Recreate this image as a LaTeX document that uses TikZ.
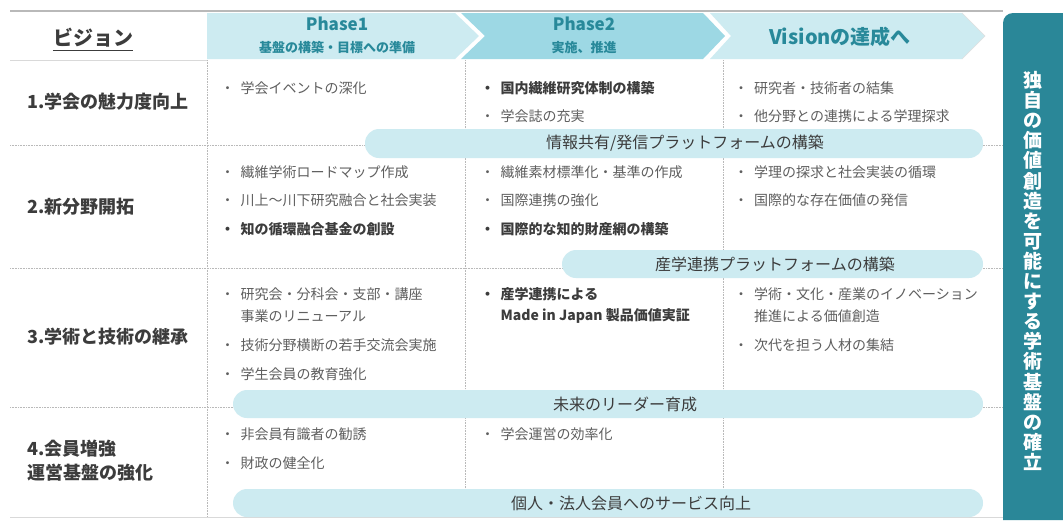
\documentclass[tikz,border=0pt]{standalone}
\usepackage{fontspec}
\setmainfont{Noto Sans CJK JP}
\definecolor{lb}{RGB}{205,235,241}
\definecolor{mb}{RGB}{157,216,228}
\definecolor{dt}{RGB}{42,135,152}
\definecolor{ht}{RGB}{40,137,154}
\definecolor{gt}{RGB}{95,95,95}
\definecolor{dk}{RGB}{60,60,60}
\definecolor{ln}{RGB}{185,185,185}
\newcommand{\bul}{\makebox[20pt][l]{・}}
\tikzset{
  item/.style={anchor=west, inner sep=0pt, text=gt, font=\fontsize{14}{16}\selectfont},
  bitem/.style={item, text=dk, font=\bfseries\fontsize{14}{16}\selectfont},
  rowlab/.style={anchor=west, inner sep=0pt, text=dk, align=left, font=\bfseries\fontsize{18}{24}\selectfont},
  pill/.style={fill=lb, rounded corners=14pt},
  pilltext/.style={inner sep=0pt, text=dk, font=\fontsize{16}{18}\selectfont},
  sep/.style={ln, densely dotted, line width=0.6pt},
  phase/.style={inner sep=0pt, text=ht, font=\bfseries\fontsize{17}{20}\selectfont},
  phasesub/.style={inner sep=0pt, text=ht, font=\bfseries\fontsize{13}{15}\selectfont},
}
\begin{document}
\begin{tikzpicture}[x=1pt,y=-1pt]
\useasboundingbox (0,0) rectangle (1063,520);
\fill[white] (0,0) rectangle (1063,520);

% header chevrons
\fill[lb] (207,13) -- (455,13) -- (479,36) -- (455,59) -- (207,59) -- cycle;
\fill[mb] (461,13) -- (703,13) -- (725,36) -- (703,59) -- (461,59) -- (485,36) -- cycle;
\fill[lb] (710,13) -- (962,13) -- (985,36) -- (962,59) -- (710,59) -- (731,36) -- cycle;
\draw[black!12, line width=0.5pt] (962,13) -- (985,36) -- (962,59);

% top line
\draw[ln, line width=1.6pt] (10,11) -- (1003,11);
\draw[black!15, line width=0.6pt] (10,60) -- (207,60);

% grid separators
\draw[sep] (10,145) -- (1003,145);
\draw[sep] (10,268) -- (1003,268);
\draw[sep] (10,407) -- (1003,407);
\draw[sep] (207,60) -- (207,517);
\draw[sep] (465,60) -- (465,517);
\draw[sep] (723,60) -- (723,517);
\draw[black!15, line width=1pt] (10,517) -- (1003,517);

% right dark box
\fill[dt] (1003,520) -- (1003,23) arc[start angle=180, end angle=270, radius=10] -- (1063,13) -- (1063,520) -- cycle;
\node[text=white, align=center, inner sep=0pt, font=\bfseries\fontsize{19}{20.1}\selectfont] (goal) at (1033,271)
 {独\\自\\の\\価\\値\\創\\造\\を\\可\\能\\に\\す\\る\\学\\術\\基\\盤\\の\\確\\立};

% header texts
\node[inner sep=0pt, text=dk, font=\bfseries\fontsize{20}{22}\selectfont] (vision) at (93,38) {ビジョン};
\draw[dk, line width=0.9pt] ([yshift=-3pt]vision.south west) -- ([yshift=-3pt]vision.south east);
\node[phase] (p1) at (337,24) {Phase1};
\node[phasesub] (p1s) at (337,48) {基盤の構築・目標への準備};
\node[phase] (p2) at (584,24) {Phase2};
\node[phasesub] (p2s) at (584,48) {実施、推進};
\node[phase, font=\bfseries\fontsize{20}{22}\selectfont] (p3) at (840,37) {Visionの達成へ};

% row labels
\node[rowlab] (r1) at (27,102) {1.学会の魅力度向上};
\node[rowlab] (r2) at (27,207) {2.新分野開拓};
\node[rowlab] (r3) at (27,337) {3.学術と技術の継承};
\node[rowlab] (r4) at (27,461) {4.会員増強\\運営基盤の強化};

% row 1
\node[item] (a11) at (220.5,88) {\bul 学会イベントの深化};
\node[bitem] (a21) at (480.5,88) {\bul 国内繊維研究体制の構築};
\node[item] (a22) at (480.5,116) {\bul 学会誌の充実};
\node[item] (a31) at (734,88) {\bul 研究者・技術者の結集};
\node[item] (a32) at (734,116) {\bul 他分野との連携による学理探求};

% pill 1
\fill[pill] (365,129) rectangle (983,158);
\node[pilltext] (t1) at (685,143) {情報共有/発信プラットフォームの構築};

% row 2
\node[item] (b11) at (220.5,172) {\bul 繊維学術ロードマップ作成};
\node[item] (b12) at (220.5,200) {\bul 川上～川下研究融合と社会実装};
\node[bitem] (b13) at (220.5,229) {\bul 知の循環融合基金の創設};
\node[item] (b21) at (480.5,172) {\bul 繊維素材標準化・基準の作成};
\node[item] (b22) at (480.5,200) {\bul 国際連携の強化};
\node[bitem] (b23) at (480.5,229) {\bul 国際的な知的財産網の構築};
\node[item] (b31) at (734,172) {\bul 学理の探求と社会実装の循環};
\node[item] (b32) at (734,200) {\bul 国際的な存在価値の発信};

% pill 2
\fill[pill] (562,250) rectangle (983,278);
\node[pilltext] (t2) at (775,264) {産学連携プラットフォームの構築};

% row 3
\node[item] (c11) at (220.5,294) {\bul 研究会・分科会・支部・講座};
\node[item] (c11b) at (240.5,316) {事業のリニューアル};
\node[item] (c12) at (220.5,345) {\bul 技術分野横断の若手交流会実施};
\node[item] (c13) at (220.5,374) {\bul 学生会員の教育強化};
\node[bitem] (c21) at (480.5,294) {\bul 産学連携による};
\node[bitem] (c21b) at (500.5,316) {Made in Japan 製品価値実証};
\node[item] (c31) at (734,294) {\bul 学術・文化・産業のイノベーション};
\node[item] (c31b) at (754,316) {推進による価値創造};
\node[item] (c32) at (734,345) {\bul 次代を担う人材の集結};

% pill 3
\fill[pill] (233,390) rectangle (983,418);
\node[pilltext] (t3) at (625,404) {未来のリーダー育成};

% row 4
\node[item] (d11) at (220.5,434) {\bul 非会員有識者の勧誘};
\node[item] (d12) at (220.5,463) {\bul 財政の健全化};
\node[item] (d21) at (480.5,434) {\bul 学会運営の効率化};

% pill 4
\fill[pill] (233,489) rectangle (983,517);
\node[pilltext] (t4) at (631,503) {個人・法人会員へのサービス向上};
\end{tikzpicture}
\end{document}
